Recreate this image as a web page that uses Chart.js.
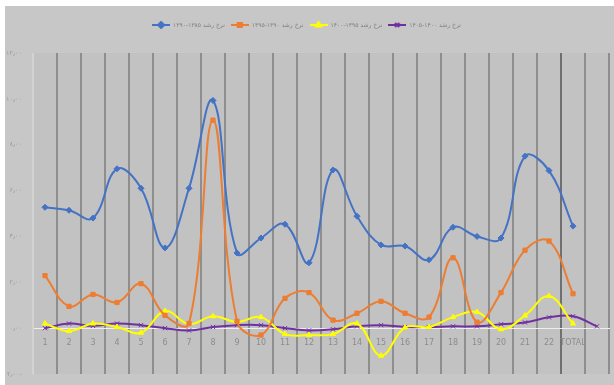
<!DOCTYPE html>
<html>
<head>
<meta charset="utf-8">
<script src="https://cdn.jsdelivr.net/npm/chart.js@4.4.0/dist/chart.umd.min.js"></script>
<style>
  html, body { margin: 0; padding: 0; background: #ffffff; }
  #wrap { width: 614px; height: 385px; }
</style>
</head>
<body>
<div id="wrap"><canvas id="growthChart" width="614" height="385"></canvas></div>
<script>
// Categories (regions 1..22, total, and one trailing slot)
const categories = ['1', '2', '3', '4', '5', '6', '7', '8', '9', '10', '11', '12',
    '13', '14', '15', '16', '17', '18', '19', '20', '21', '22', 'TOTAL', ''];

const seriesNames = ['نرخ رشد ۱۳۸۵-۱۳۹۰', 'نرخ رشد ۱۳۹۰-۱۳۹۵', 'نرخ رشد ۱۳۹۵-۱۴۰۰', 'نرخ رشد ۱۴۰۰-۱۴۰۵'];

// Growth rate series
const rateA = [5.27, 5.14, 4.8, 6.95, 6.1, 3.5, 6.1, 9.93, 3.28, 3.93, 4.53, 2.85,
    6.9, 4.88, 3.63, 3.58, 2.98, 4.4, 4.0, 3.93, 7.5, 6.87, 4.45, null];
const rateB = [2.29, 0.95, 1.47, 1.12, 1.94, 0.56, 0.2, 9.07, 0.3, -0.3, 1.3, 1.55,
    0.35, 0.65, 1.17, 0.65, 0.48, 3.07, 0.26, 1.55, 3.4, 3.8, 1.5, null];
const rateC = [0.2, -0.13, 0.2, 0.05, -0.2, 0.75, 0.18, 0.52, 0.27, 0.48, -0.26, -0.3,
    -0.26, 0.2, -1.2, 0.03, 0.05, 0.48, 0.7, -0.05, 0.55, 1.4, 0.2, null];
const rateD = [0.0, 0.2, 0.1, 0.2, 0.13, 0.0, -0.1, 0.05, 0.13, 0.13, 0.0, -0.1,
    -0.05, 0.08, 0.13, 0.05, 0.05, 0.08, 0.08, 0.17, 0.25, 0.47, 0.52, 0.08];

const yTicks = [-2, 0, 2, 4, 6, 8, 10, 12];

const colors = ['#4472c4', '#ed7d31', '#ffff00', '#7030a0'];
const markers = ['rectRot', 'rect', 'triangle', 'crossRot'];

// Persian digits for the value axis, e.g. ۱۲٫۰۰ and ۲٫۰۰-
function toPersian(v) {
    const fa = '۰۱۲۳۴۵۶۷۸۹';
    const s = Math.abs(v).toFixed(2).replace(/\d/g, d => fa[d]).replace('.', '٫');
    return v < 0 ? s + '-' : s;
}

// Small line+marker swatch for the legend
function legendSwatch(color, marker) {
    const c = document.createElement('canvas');
    c.width = 18; c.height = 8;
    const g = c.getContext('2d');
    g.strokeStyle = color; g.fillStyle = color; g.lineWidth = 2;
    g.beginPath(); g.moveTo(0, 4); g.lineTo(18, 4); g.stroke();
    Chart.helpers.drawPoint(g, { pointStyle: marker, radius: 3, borderWidth: 1 }, 9, 4);
    g.fill();
    return c;
}

const backgroundPlugin = {
    id: 'panelBackground',
    beforeDraw(chart) {
        const ctx = chart.ctx;
        ctx.save();
        ctx.fillStyle = '#ffffff';
        ctx.fillRect(0, 0, chart.width, chart.height);
        ctx.fillStyle = '#c7c7c7';
        ctx.fillRect(5, 6, chart.width - 5, chart.height - 6);
        const a = chart.chartArea;
        ctx.fillStyle = '#c2c2c2';
        ctx.fillRect(a.left, a.top, a.right - a.left, a.bottom - a.top);
        ctx.restore();
    }
};

const rates = [rateA, rateB, rateC, rateD];

new Chart(document.getElementById('growthChart').getContext('2d'), {
    type: 'line',
    data: {
        labels: categories,
        datasets: rates.map((values, i) => ({
            label: seriesNames[i],
            data: values,
            borderColor: colors[i],
            backgroundColor: colors[i],
            borderWidth: 2,
            tension: 0.4,
            pointStyle: markers[i],
            pointRadius: 3,
            pointBorderWidth: 1,
            pointBorderColor: colors[i],
            order: i
        }))
    },
    options: {
        responsive: false,
        animation: false,
        layout: { padding: { left: 3, right: 4, top: 16, bottom: 11 } },
        plugins: {
            legend: {
                position: 'top',
                labels: {
                    color: '#7f7f7f',
                    font: { family: 'DejaVu Sans', size: 6 },
                    padding: 6,
                    usePointStyle: true,
                    pointStyleWidth: 18,
                    generateLabels: chart => chart.data.datasets.map((ds, i) => ({
                        text: ds.label,
                        fillStyle: colors[i],
                        strokeStyle: colors[i],
                        pointStyle: legendSwatch(colors[i], markers[i]),
                        fontColor: '#7f7f7f',
                        datasetIndex: i
                    }))
                }
            },
            tooltip: { enabled: false }
        },
        scales: {
            x: {
                position: { y: 0 },
                offset: true,
                grid: {
                    offset: true,
                    drawTicks: false,
                    lineWidth: 2,
                    color: ctx => ctx.index === 0 ? '#d2d2d2' : (ctx.index === 22 ? '#707070' : '#8e8e8e')
                },
                border: { color: '#eeeeee', width: 1 },
                ticks: {
                    color: '#8c8c8c',
                    font: { family: 'DejaVu Sans', size: 8 },
                    padding: 10,
                    maxRotation: 0,
                    autoSkip: false
                }
            },
            // empty band between the legend and the plot
            xTop: {
                type: 'category',
                position: 'top',
                grid: { display: false },
                border: { display: false },
                ticks: { display: false },
                afterFit: scale => { scale.height = 15; }
            },
            y: {
                min: -2,
                max: 12,
                afterBuildTicks: scale => { scale.ticks = yTicks.map(v => ({ value: v })); },
                afterFit: scale => { scale.width = 30; },
                grid: { display: false },
                border: { color: '#d4d4d4', width: 1 },
                ticks: {
                    color: '#9a9a9a',
                    font: { family: 'DejaVu Sans', size: 6.5 },
                    padding: 3,
                    callback: v => toPersian(v)
                }
            }
        }
    },
    plugins: [backgroundPlugin]
});
</script>
</body>
</html>
